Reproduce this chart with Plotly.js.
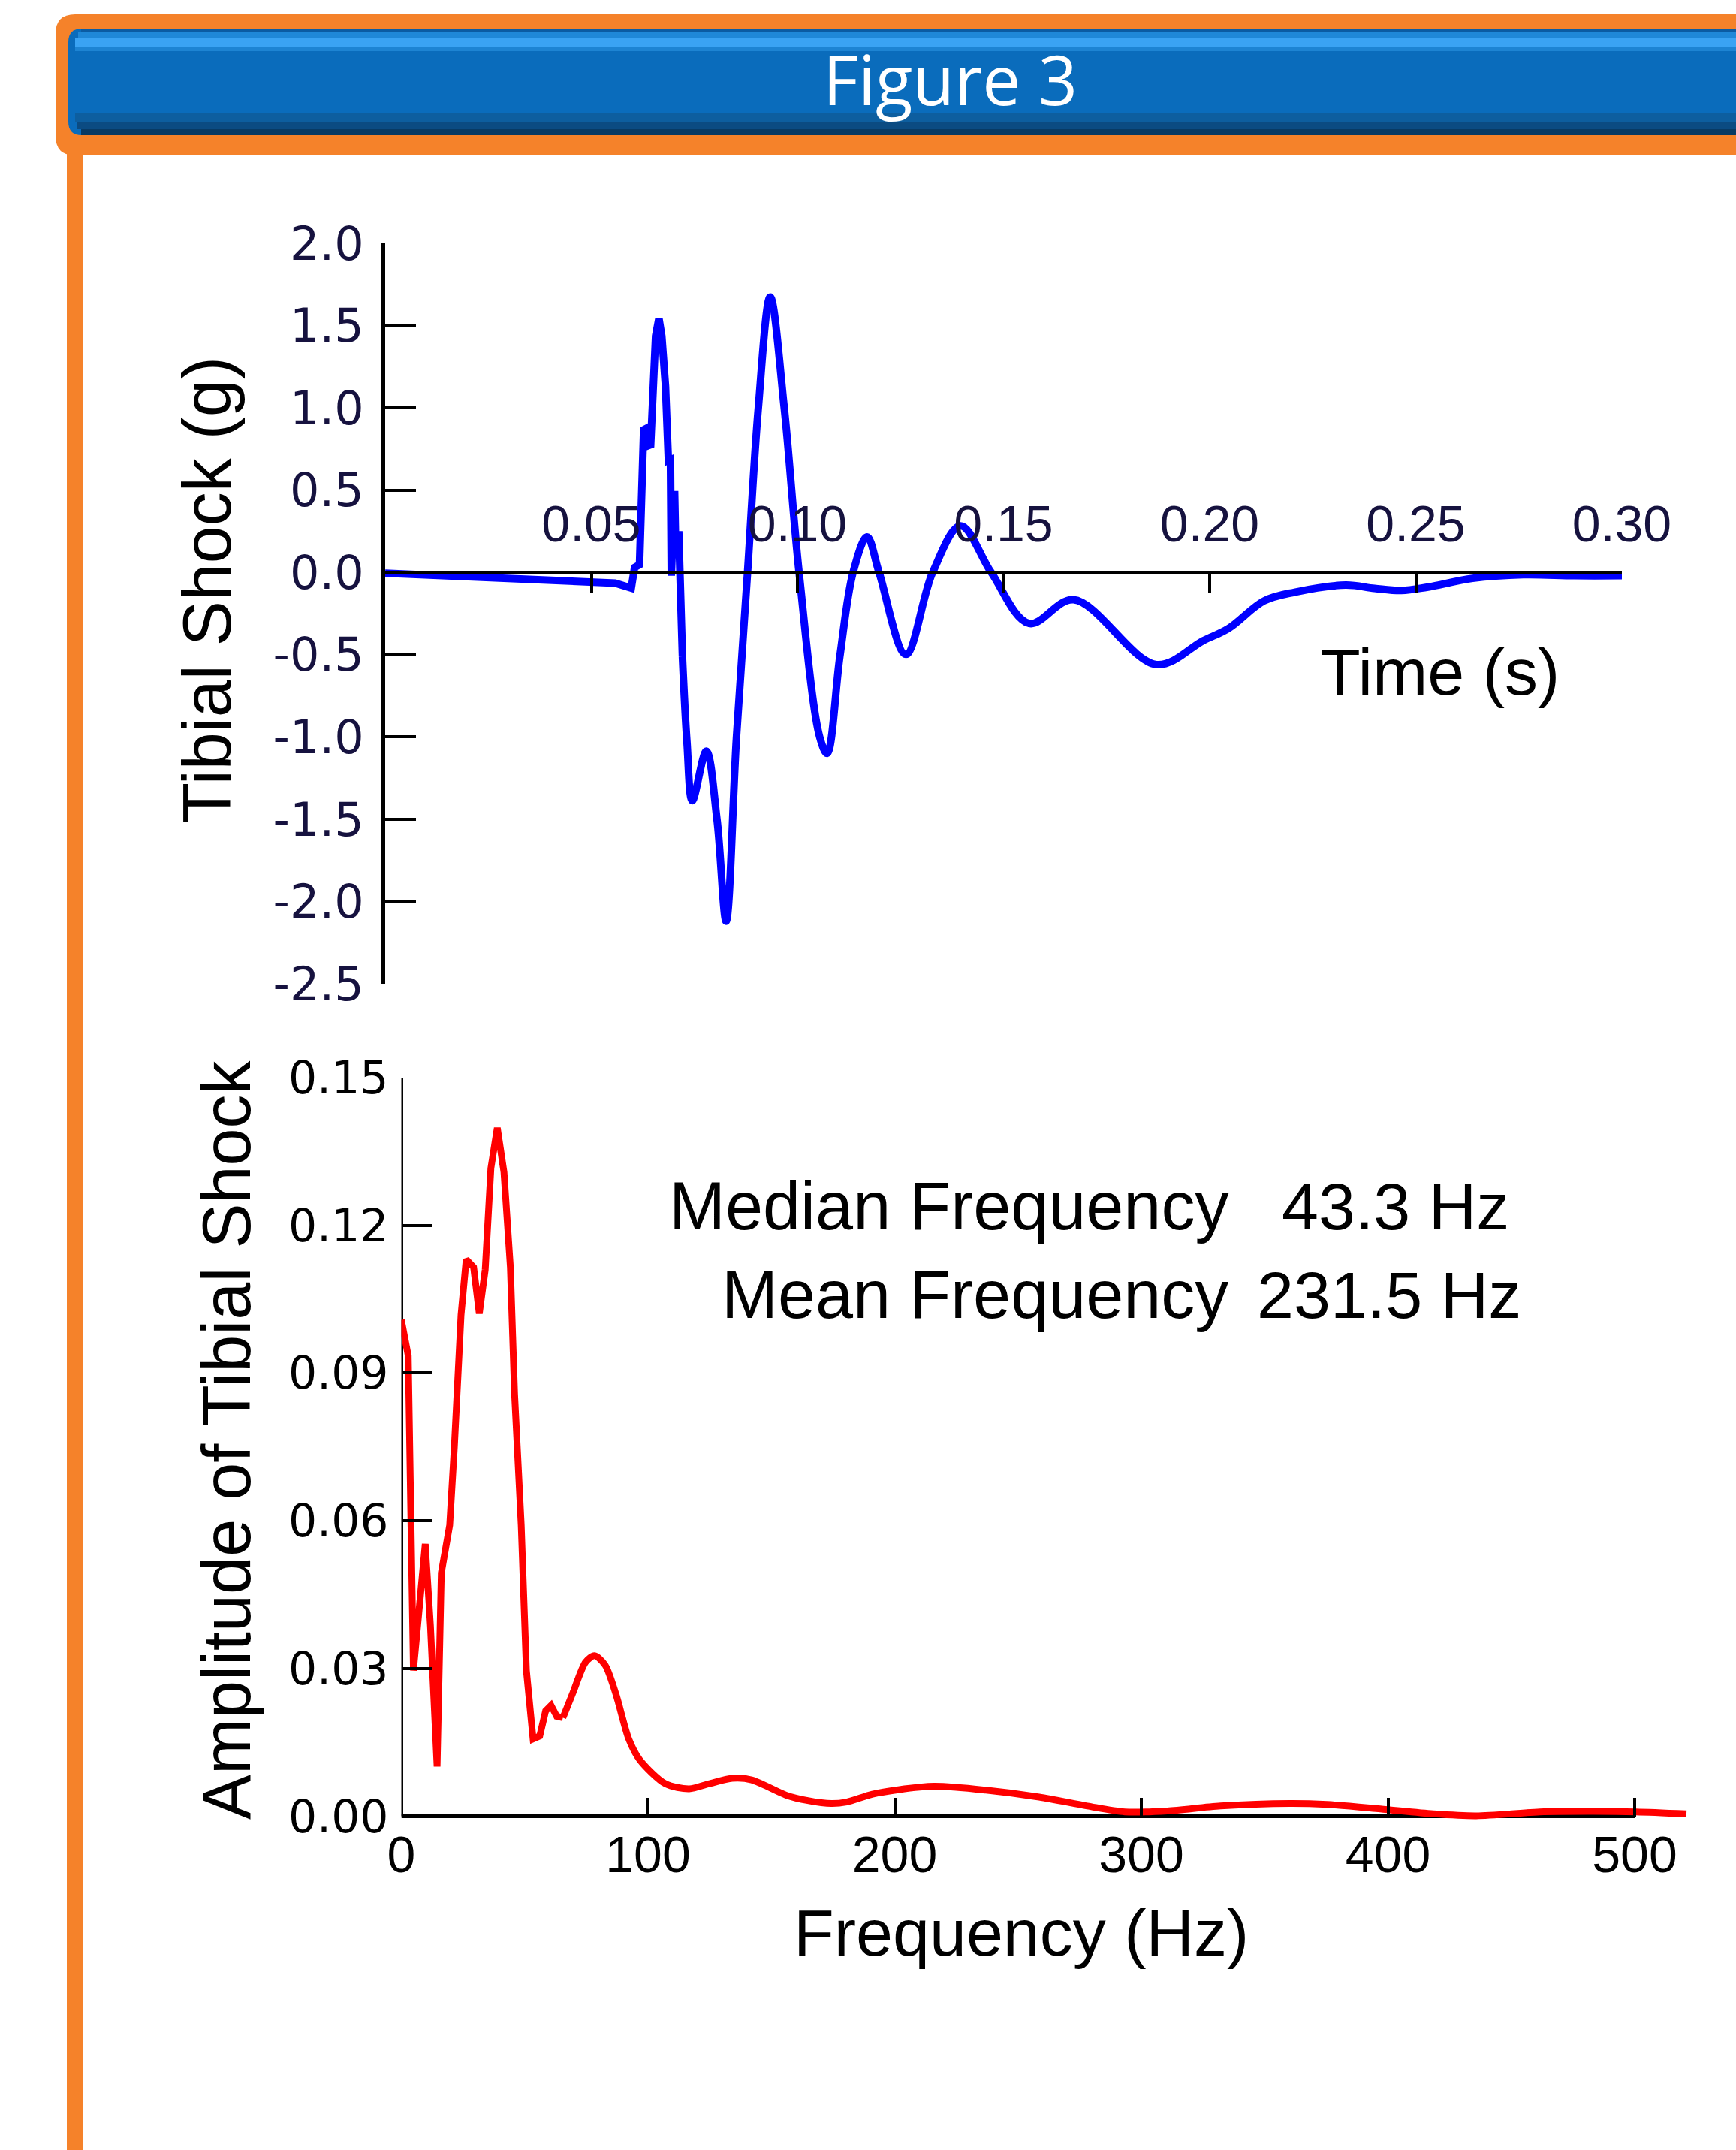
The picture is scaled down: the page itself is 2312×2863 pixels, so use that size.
<!DOCTYPE html>
<html>
<head>
<meta charset="utf-8">
<script src="https://cdn.plot.ly/plotly-3.0.1.min.js"></script>
<style>
html,body{margin:0;padding:0;background:#ffffff;}
#chart{width:2312px;height:2863px;}
</style>
</head>
<body>
<div id="chart"></div>
<script>
// ---------------- data ----------------
const figureTitle = 'Figure 3';

// Top panel: tibial shock vs time — impact transient (sharp, straight segments)
const timeImpact  = [0, 0.025, 0.050, 0.0558, 0.0597, 0.0605, 0.0617, 0.0627, 0.0633, 0.0638, 0.0644, 0.0656, 0.0664, 0.0671, 0.0680, 0.0687, 0.0692, 0.0694, 0.0702, 0.0705, 0.0712, 0.0721];
const shockImpact = [-0.005, -0.027, -0.055, -0.065, -0.095, 0.03, 0.047, 0.867, 0.875, 0.77, 0.776, 1.437, 1.544, 1.437, 1.13, 0.68, 0.685, -0.02, 0.495, 0.11, 0.25, -0.51];

// Top panel: decaying oscillation (smooth)
const timeDecay  = [0.0721, 0.0732, 0.0745, 0.0779, 0.0805, 0.0827, 0.0852, 0.0879, 0.0905, 0.0934, 0.0968, 0.1004, 0.1054, 0.1072, 0.1103, 0.1135, 0.1169, 0.1198, 0.1263, 0.1328, 0.1396, 0.1470, 0.1562, 0.1670, 0.1871, 0.1984, 0.2046, 0.2132, 0.2206, 0.2330, 0.2400, 0.2465, 0.2527, 0.2638, 0.2761, 0.2885, 0.3000];
const shockDecay = [-0.51, -1.03, -1.387, -1.086, -1.505, -2.12, -1.007, 0.0, 0.996, 1.674, 1.0, 0.0, -1.0, -1.10, -0.51, 0.0, 0.216, 0.0, -0.498, 0.0, 0.283, 0.0, -0.31, -0.166, -0.56, -0.415, -0.34, -0.173, -0.12, -0.077, -0.097, -0.11, -0.09, -0.036, -0.014, -0.02, -0.02];

// Bottom panel: amplitude spectrum — low frequencies (jagged)
const freqLow = [0, 2.8, 4.9, 9.7, 11.8, 14.5, 16.2, 19.6, 21.5, 24.2, 26.3, 29.3, 31.6, 34.0, 36.3, 38.9, 41.6, 44.2, 45.9, 48.6, 50.7, 53.4, 56.1, 58.5, 60.7, 63.0, 65.5];
const ampLow  = [0.1008, 0.0935, 0.0296, 0.0553, 0.0387, 0.0101, 0.0494, 0.0591, 0.0751, 0.1018, 0.1131, 0.1115, 0.1021, 0.1110, 0.1316, 0.1398, 0.1308, 0.1115, 0.0858, 0.0591, 0.0296, 0.0157, 0.0163, 0.0214, 0.0225, 0.0203, 0.0200];

// Bottom panel: higher frequencies (smooth)
const freqHigh = [65.5, 69.5, 74.7, 78.3, 82.6, 87.0, 92.2, 96.6, 107.1, 116.7, 124.6, 134.2, 142.0, 156.0, 164.8, 174.4, 180.5, 191.0, 201.5, 216.0, 237.0, 258.6, 278.1, 293.3, 310.5, 332.1, 360.2, 375.3, 396.8, 418.4, 435.8, 461.6, 483.3, 500.5, 521.0];
const ampHigh  = [0.0200, 0.0250, 0.0313, 0.0326, 0.0307, 0.0248, 0.0157, 0.0115, 0.0066, 0.0056, 0.0066, 0.0077, 0.0074, 0.0043, 0.0032, 0.0026, 0.0029, 0.0045, 0.0054, 0.0061, 0.0053, 0.0039, 0.0021, 0.0009, 0.0011, 0.0021, 0.0026, 0.0024, 0.0015, 0.0005, 0.0001, 0.0009, 0.0010, 0.0009, 0.0005];

// Axis ticks and labels
const timeTicks      = [0.05, 0.10, 0.15, 0.20, 0.25, 0.30];
const timeTickText   = ['0.05', '0.10', '0.15', '0.20', '0.25', '0.30'];
const shockTicks     = [2.0, 1.5, 1.0, 0.5, 0.0, -0.5, -1.0, -1.5, -2.0, -2.5];
const shockTickText  = ['2.0', '1.5', '1.0', '0.5', '0.0', '-0.5', '-1.0', '-1.5', '-2.0', '-2.5'];
const freqTicks      = [0, 100, 200, 300, 400, 500];
const freqTickText   = ['0', '100', '200', '300', '400', '500'];
const ampTicks       = [0.00, 0.03, 0.06, 0.09, 0.12, 0.15];
const ampTickText    = ['0.00', '0.03', '0.06', '0.09', '0.12', '0.15'];

const timeTitle  = 'Time (s)';
const shockTitle = 'Tibial Shock (g)';
const freqTitle  = 'Frequency (Hz)';
const ampTitle   = 'Amplitude of Tibial Shock';
const medianLabel = 'Median Frequency';
const medianValue = '43.3 Hz';
const meanLabel   = 'Mean Frequency';
const meanValue   = '231.5 Hz';

// ---------------- geometry ----------------
const W = 2312, H = 2863;
const fx = v => v / W;
const fy = v => 1 - v / H;

const topXRange = [0, 0.30];
const topYRange = [-2.5, 2.0];
const topXDom = [fx(513), fx(2160)];
const topYDom = [fy(1310), fy(324)];

const botXRange = [0, 525];
const botYRange = [-0.004, 0.15];
const botXDom = [fx(534.5), fx(534.5 + 525 * 3.285)];
const botYDom = [fy(2418.6 + 0.004 * 6557), fy(1435)];

function zeroPos(dom, rng) {
  return dom[0] + (0 - rng[0]) / (rng[1] - rng[0]) * (dom[1] - dom[0]);
}

const navy = '#16123f';
const labelFont = 'Liberation Sans, Arial, sans-serif';
const tickFontWide = 'DejaVu Sans, Verdana, sans-serif';

// ---------------- traces ----------------
const traces = [
  {x: timeImpact, y: shockImpact, type: 'scatter', mode: 'lines', xaxis: 'x', yaxis: 'y',
   line: {color: '#0000ff', width: 10, shape: 'linear'}, hoverinfo: 'skip'},
  {x: timeDecay, y: shockDecay, type: 'scatter', mode: 'lines', xaxis: 'x', yaxis: 'y',
   line: {color: '#0000ff', width: 10, shape: 'spline', smoothing: 1}, hoverinfo: 'skip'},
  {x: freqLow, y: ampLow, type: 'scatter', mode: 'lines', xaxis: 'x2', yaxis: 'y2',
   line: {color: '#ff0000', width: 9, shape: 'linear'}, hoverinfo: 'skip'},
  {x: freqHigh, y: ampHigh, type: 'scatter', mode: 'lines', xaxis: 'x2', yaxis: 'y2',
   line: {color: '#ff0000', width: 9, shape: 'spline', smoothing: 0.8}, hoverinfo: 'skip'}
];

// ---------------- header shapes ----------------
function rr(x0, y0, x1, y1, r) {
  return `M ${fx(x0 + r)},${fy(y0)} L ${fx(x1)},${fy(y0)} L ${fx(x1)},${fy(y1)} L ${fx(x0 + r)},${fy(y1)} ` +
         `Q ${fx(x0)},${fy(y1)} ${fx(x0)},${fy(y1 - r)} L ${fx(x0)},${fy(y0 + r)} Q ${fx(x0)},${fy(y0)} ${fx(x0 + r)},${fy(y0)} Z`;
}
function band(x0, y0, x1, y1, color) {
  return {type: 'rect', xref: 'paper', yref: 'paper', x0: fx(x0), x1: fx(x1), y0: fy(y1), y1: fy(y0),
          fillcolor: color, line: {width: 0}, layer: 'above'};
}
const orange = '#f5822a';
const shapes = [
  {type: 'path', xref: 'paper', yref: 'paper', path: rr(74, 19, 2330, 207, 26), fillcolor: orange, line: {width: 0}, layer: 'above'},
  band(89, 150, 110, 2863, orange),
  {type: 'path', xref: 'paper', yref: 'paper', path: rr(91, 38, 2330, 180, 18), fillcolor: '#0a6cbc', line: {width: 0}, layer: 'above'},
  band(108, 38, 2312, 43, '#0b5ca3'),
  band(104, 43, 2312, 50, '#1f88d8'),
  band(100, 50, 2312, 63, '#3aa3f3'),
  band(100, 63, 2312, 68, '#1d84d3'),
  band(100, 150, 2312, 162, '#0d5e9f'),
  band(102, 162, 2312, 172, '#0b4b82'),
  band(108, 172, 2312, 180, '#083a64'),
  // bottom panel axis lines (drawn only up to the last tick)
  {type: 'line', xref: 'x2', yref: 'y2', x0: 0, x1: freqTicks[freqTicks.length - 1], y0: 0, y1: 0,
   line: {color: '#000000', width: 5}, layer: 'below'},
  {type: 'line', xref: 'x2', yref: 'y2', x0: 0, x1: 0, y0: 0, y1: ampTicks[ampTicks.length - 1],
   line: {color: '#000000', width: 5}, layer: 'below'}
];

// ---------------- annotations ----------------
function ann(text, x, y, size, opts) {
  return Object.assign({text: text, xref: 'paper', yref: 'paper', x: fx(x), y: fy(y),
    xanchor: 'center', yanchor: 'middle', showarrow: false,
    font: {family: labelFont, size: size, color: '#000000'}}, opts || {});
}
const annotations = [
  ann(figureTitle, 1265, 105, 91, {font: {family: 'Open Sans, sans-serif', size: 91, color: '#ffffff'}}),
  ann(timeTitle, 1917, 894, 88),
  ann(freqTitle, 1360, 2573, 88),
  ann(shockTitle, 276, 786, 90, {textangle: -90}),
  ann(ampTitle, 302, 1917, 90, {textangle: -90}),
  ann(medianLabel, 1638, 1606, 90, {xanchor: 'right'}),
  ann(medianValue, 1705, 1606, 88, {xanchor: 'left'}),
  ann(meanLabel, 1638, 1724, 90, {xanchor: 'right'}),
  ann(meanValue, 1672, 1724, 88, {xanchor: 'left'})
];

// ---------------- layout ----------------
const layout = {
  width: W, height: H,
  margin: {l: 0, r: 0, t: 0, b: 0, pad: 0},
  paper_bgcolor: '#ffffff', plot_bgcolor: 'rgba(0,0,0,0)',
  showlegend: false,
  font: {family: labelFont, color: '#000000'},
  xaxis: {
    domain: topXDom, range: topXRange, anchor: 'free', position: zeroPos(topYDom, topYRange),
    side: 'top', ticks: 'inside', ticklen: 25, tickwidth: 4, tickcolor: '#000000',
    showline: true, linewidth: 5, linecolor: '#000000',
    tickmode: 'array', tickvals: timeTicks, ticktext: timeTickText,
    tickfont: {family: labelFont, size: 68, color: navy},
    ticklabelstandoff: 12,
    showgrid: false, zeroline: false, fixedrange: true
  },
  yaxis: {
    domain: topYDom, range: topYRange, anchor: 'x',
    ticks: 'inside', ticklen: 41, tickwidth: 4, tickcolor: '#000000',
    showline: true, linewidth: 5, linecolor: '#000000',
    tickmode: 'array', tickvals: shockTicks, ticktext: shockTickText,
    tickfont: {family: tickFontWide, size: 62, color: navy},
    ticklabelstandoff: 11,
    showgrid: false, zeroline: false, fixedrange: true
  },
  xaxis2: {
    domain: botXDom, range: botXRange, anchor: 'free', position: zeroPos(botYDom, botYRange),
    side: 'bottom', ticks: 'inside', ticklen: 25, tickwidth: 4, tickcolor: '#000000',
    showline: false,
    tickmode: 'array', tickvals: freqTicks, ticktext: freqTickText,
    tickfont: {family: labelFont, size: 68, color: '#000000'},
    ticklabelstandoff: 5,
    showgrid: false, zeroline: false, fixedrange: true
  },
  yaxis2: {
    domain: botYDom, range: botYRange, anchor: 'x2',
    ticks: 'inside', ticklen: 41, tickwidth: 4, tickcolor: '#000000',
    showline: false,
    tickmode: 'array', tickvals: ampTicks, ticktext: ampTickText,
    tickfont: {family: tickFontWide, size: 60, color: '#000000'},
    ticklabelstandoff: 16,
    showgrid: false, zeroline: false, fixedrange: true
  },
  shapes: shapes,
  annotations: annotations
};

Plotly.newPlot('chart', traces, layout, {staticPlot: true, displayModeBar: false});
</script>
</body>
</html>
